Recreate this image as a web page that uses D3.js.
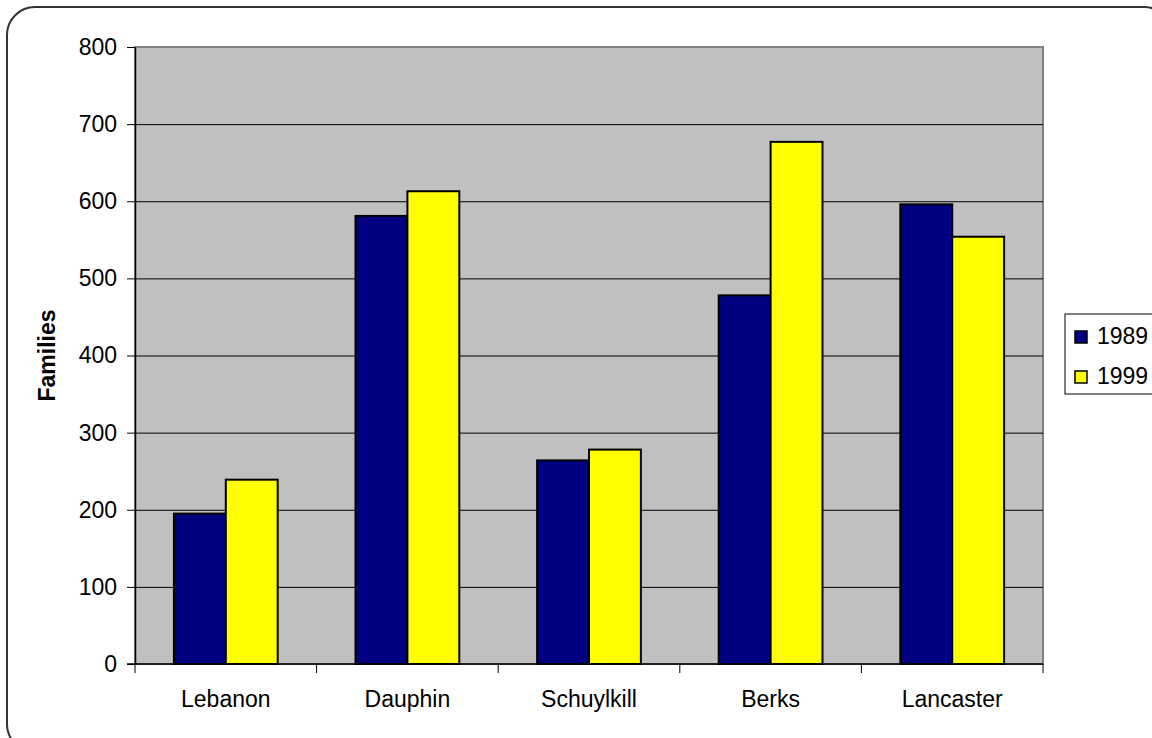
<!DOCTYPE html>
<html>
<head>
<meta charset="utf-8">
<script src="https://cdn.jsdelivr.net/npm/d3@7/dist/d3.min.js"></script>
<style>
    body { margin: 0; background: #fff; }
    svg { display: block; font-family: "Liberation Sans", Arial, sans-serif; }
</style>
</head>
<body>
<svg width="1152" height="738"></svg>
<script>
"use strict";

var counties = ["Lebanon", "Dauphin", "Schuylkill", "Berks", "Lancaster"];
var years = ["1989", "1999"];
var families1989 = [195, 581, 264, 478, 596];
var families1999 = [239, 613, 278, 677, 554];
var yTicks = [0, 100, 200, 300, 400, 500, 600, 700, 800];
var colors = ["#000080", "#ffff00"];

var svg = d3.select("svg");
var plot = {left: 135, top: 47, right: 1043, bottom: 664};

// outer frame with rounded corners, running off the right/bottom edge
svg.append("rect")
    .attr("x", 7).attr("y", 7)
    .attr("width", 1165).attr("height", 745)
    .attr("rx", 28)
    .attr("fill", "#fff")
    .attr("stroke", "#333")
    .attr("stroke-width", 2);

// one band per county, bars split inside it (Excel's 150% gap)
var catScale = d3.scaleBand()
    .domain(counties)
    .range([plot.left, plot.right]);
var barScale = d3.scaleBand()
    .domain(years)
    .range([0, catScale.bandwidth()])
    .paddingOuter(0.75);

var yScale = d3.scaleLinear()
    .domain([0, 800])
    .range([plot.bottom, plot.top]);

// plot background
svg.append("rect")
    .attr("x", plot.left).attr("y", plot.top)
    .attr("width", plot.right - plot.left)
    .attr("height", plot.bottom - plot.top)
    .attr("fill", "#c0c0c0")
    .attr("stroke", "#808080")
    .attr("stroke-width", 2);

// gridlines
svg.append("g")
    .selectAll("line")
    .data(yTicks.slice(1, -1))
    .join("line")
    .attr("x1", plot.left).attr("x2", plot.right)
    .attr("y1", function (d) { return yScale(d) + 0.5; })
    .attr("y2", function (d) { return yScale(d) + 0.5; })
    .attr("stroke", "#000")
    .attr("stroke-width", 1);

// bars
var series = [families1989, families1999];
var groups = svg.append("g")
    .selectAll("g")
    .data(years)
    .join("g")
    .attr("fill", function (d, i) { return colors[i]; });

groups.selectAll("rect")
    .data(function (d, i) {
        return series[i].map(function (v, j) {
            return {county: counties[j], year: d, value: v};
        });
    })
    .join("rect")
    .attr("x", function (d) {
        return catScale(d.county) + barScale(d.year);
    })
    .attr("y", function (d) { return yScale(d.value); })
    .attr("width", barScale.bandwidth())
    .attr("height", function (d) { return yScale(0) - yScale(d.value); })
    .attr("stroke", "#000")
    .attr("stroke-width", 2);

// y axis
var yAxis = d3.axisLeft(yScale)
    .tickValues(yTicks)
    .tickSize(8)
    .tickPadding(10)
    .tickSizeOuter(0);
var yAxisGroup = svg.append("g")
    .attr("transform", "translate(" + plot.left + ",0)")
    .call(yAxis);
yAxisGroup.select(".domain").attr("stroke", "#000").attr("stroke-width", 1.5);
yAxisGroup.selectAll(".tick line").attr("stroke", "#000");
yAxisGroup.selectAll(".tick text")
    .attr("font-size", 23)
    .attr("fill", "#000")
    .attr("font-family", "Liberation Sans, Arial, sans-serif");

// x axis: ticks sit on category boundaries
var xAxisGroup = svg.append("g")
    .attr("transform", "translate(0," + plot.bottom + ")");
xAxisGroup.append("line")
    .attr("x1", plot.left - 8).attr("x2", plot.right)
    .attr("stroke", "#000").attr("stroke-width", 1.5);
xAxisGroup.selectAll("line.tick")
    .data(counties.concat(["end"]))
    .join("line")
    .attr("class", "tick")
    .attr("x1", function (d) {
        return d === "end" ? plot.right : catScale(d);
    })
    .attr("x2", function (d) {
        return d === "end" ? plot.right : catScale(d);
    })
    .attr("y1", 0).attr("y2", 9)
    .attr("stroke", "#000");
xAxisGroup.selectAll("text")
    .data(counties)
    .join("text")
    .attr("x", function (d) {
        return catScale(d) + catScale.bandwidth() / 2;
    })
    .attr("y", 43)
    .attr("text-anchor", "middle")
    .attr("font-size", 23)
    .text(function (d) { return d; });

// y axis title
svg.append("text")
    .attr("transform", "translate(55," + (plot.top + plot.bottom) / 2 +
            ") rotate(-90)")
    .attr("text-anchor", "middle")
    .attr("font-size", 23)
    .attr("font-weight", "bold")
    .text("Families");

// legend
var legend = svg.append("g").attr("transform", "translate(1065,314)");
legend.append("rect")
    .attr("width", 120).attr("height", 80)
    .attr("fill", "#fff")
    .attr("stroke", "#000")
    .attr("stroke-width", 1);
var items = legend.selectAll("g")
    .data(years)
    .join("g")
    .attr("transform", function (d, i) {
        return "translate(0," + (i * 40) + ")";
    });
items.append("rect")
    .attr("x", 10).attr("y", 17)
    .attr("width", 12).attr("height", 12)
    .attr("fill", function (d, i) { return colors[i]; })
    .attr("stroke", "#000")
    .attr("stroke-width", 1.5);
items.append("text")
    .attr("x", 32).attr("y", 30)
    .attr("font-size", 23)
    .text(function (d) { return d; });
</script>
</body>
</html>
